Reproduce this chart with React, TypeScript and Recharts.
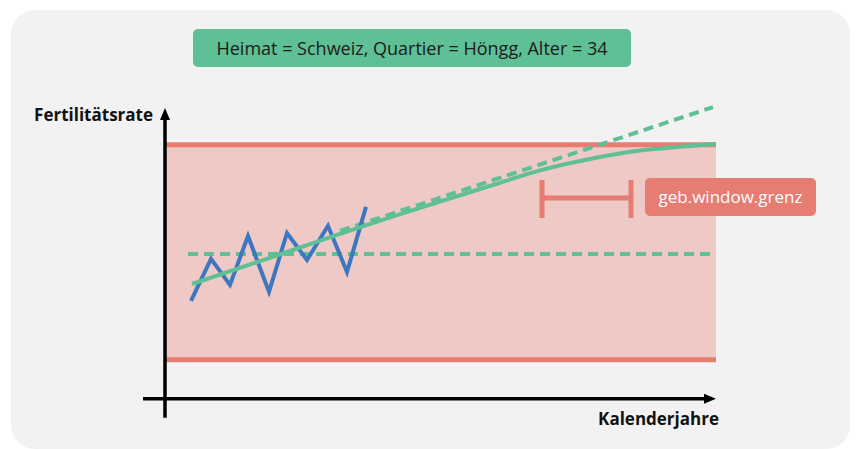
import {
  ComposedChart,
  Line,
  XAxis,
  YAxis,
  ReferenceArea,
  ReferenceLine,
} from 'recharts'

// abstract units: 5px per year step on x, 3px per unit on y
const X_DOMAIN: [number, number] = [-4.4, 110.2]
const Y_DOMAIN: [number, number] = [-6.4, 98]

const observedX = [5.2, 9.2, 13, 16.6, 20.8, 24.4, 28.4, 32.6, 36.4, 40.2]
const observedY = [32.7, 46.7, 38, 54.3, 35.7, 55.3, 46.3, 57.7, 42.3, 64]

const trendX = [5.4, 15, 25, 35, 45, 55, 65, 75, 85, 95, 105, 110]
const trendY = [38.3, 43.7, 49.3, 55, 60.5, 65.8, 71, 76.2, 80, 82.8, 84.3, 85]

const linearX = [35, 109.6]
const linearY = [56, 97.3]

const meanX = [4.6, 110]
const meanY = [48.3, 48.3]

const bandX = [0, 110.2]
const bandY = [13, 84.7]

const windowX = [75.4, 93.2]
const windowY = [60.3, 67, 73]

const RED = '#e67c72'
const GREEN = '#5fbf95'
const BLUE = '#3d77bf'

const zip = (xs: number[], ys: number[]) => xs.map((x, i) => ({ x, y: ys[i] }))

const observed = zip(observedX, observedY)
const trend = zip(trendX, trendY)
const linear = zip(linearX, linearY)
const mean = zip(meanX, meanY)

function Arrow(props: any) {
  const { x1, y1, x2, y2 } = props
  const dx = x2 - x1
  const dy = y2 - y1
  const len = Math.sqrt(dx * dx + dy * dy)
  const ux = dx / len
  const uy = dy / len
  const head = 12
  const half = 5
  const bx = x2 - ux * head
  const by = y2 - uy * head
  return (
    <g>
      <line x1={x1} y1={y1} x2={bx} y2={by} stroke="#000" strokeWidth={3.5} />
      <polygon
        points={`${x2},${y2} ${bx - uy * half},${by + ux * half} ${bx + uy * half},${by - ux * half}`}
        fill="#000"
      />
    </g>
  )
}

const font = '"Open Sans", Lato, sans-serif'

export default function App() {
  return (
    <div
      style={{
        position: 'absolute',
        left: 0,
        top: 0,
        width: 857,
        height: 449,
        background: '#fff',
        overflow: 'hidden',
        fontFamily: font,
      }}
    >
      <div
        style={{
          position: 'absolute',
          left: 11,
          top: 10,
          width: 839,
          height: 439,
          background: '#f2f2f2',
          borderRadius: 24,
        }}
      />
      <div
        style={{
          position: 'absolute',
          left: 193,
          top: 29,
          width: 438,
          height: 38,
          background: GREEN,
          borderRadius: 5,
          color: '#1b1b1b',
          fontSize: 18,
          lineHeight: '38px',
          textAlign: 'center',
          whiteSpace: 'nowrap',
        }}
      >
        Heimat = Schweiz, Quartier = Höngg, Alter = 34
      </div>
      <div style={{ position: 'absolute', left: 0, top: 0 }}>
        <ComposedChart
          width={857}
          height={449}
          margin={{ top: 105, right: 141, bottom: 31, left: 143 }}
        >
          <XAxis type="number" dataKey="x" domain={X_DOMAIN} hide allowDataOverflow />
          <YAxis type="number" dataKey="y" domain={Y_DOMAIN} hide allowDataOverflow />
          <ReferenceArea
            x1={bandX[0]}
            x2={bandX[1]}
            y1={bandY[0]}
            y2={bandY[1]}
            fill="#eec9c5"
            fillOpacity={1}
            stroke="none"
          />
          <ReferenceLine
            segment={[{ x: bandX[0], y: bandY[1] }, { x: bandX[1], y: bandY[1] }]}
            stroke={RED}
            strokeWidth={5}
          />
          <ReferenceLine
            segment={[{ x: bandX[0], y: bandY[0] }, { x: bandX[1], y: bandY[0] }]}
            stroke={RED}
            strokeWidth={5}
          />
          <ReferenceLine
            segment={[{ x: 0, y: -6.3 }, { x: 0, y: 97 }]}
            shape={Arrow}
          />
          <ReferenceLine
            segment={[{ x: -4.4, y: 0 }, { x: 110.2, y: 0 }]}
            shape={Arrow}
          />
          <Line
            data={mean}
            dataKey="y"
            type="linear"
            stroke={GREEN}
            strokeWidth={4}
            strokeDasharray="10 6"
            dot={false}
            isAnimationActive={false}
          />
          <Line
            data={linear}
            dataKey="y"
            type="linear"
            stroke={GREEN}
            strokeWidth={4}
            strokeDasharray="10 6"
            dot={false}
            isAnimationActive={false}
          />
          <Line
            data={observed}
            dataKey="y"
            type="linear"
            stroke={BLUE}
            strokeWidth={4}
            dot={false}
            isAnimationActive={false}
          />
          <Line
            data={trend}
            dataKey="y"
            type="monotone"
            stroke={GREEN}
            strokeWidth={4}
            dot={false}
            isAnimationActive={false}
          />
          <ReferenceLine
            segment={[{ x: windowX[0], y: windowY[1] }, { x: windowX[1], y: windowY[1] }]}
            stroke={RED}
            strokeWidth={5}
          />
          <ReferenceLine
            segment={[{ x: windowX[0], y: windowY[0] }, { x: windowX[0], y: windowY[2] }]}
            stroke={RED}
            strokeWidth={5}
          />
          <ReferenceLine
            segment={[{ x: windowX[1], y: windowY[0] }, { x: windowX[1], y: windowY[2] }]}
            stroke={RED}
            strokeWidth={5}
          />
        </ComposedChart>
      </div>
      <div
        style={{
          position: 'absolute',
          left: 645,
          top: 178,
          width: 171,
          height: 38,
          background: RED,
          borderRadius: 5,
          color: '#fff',
          fontSize: 17,
          lineHeight: '38px',
          textAlign: 'center',
          whiteSpace: 'nowrap',
        }}
      >
        geb.window.grenz
      </div>
      <div
        style={{
          position: 'absolute',
          right: 857 - 153,
          top: 104,
          fontSize: 17,
          fontWeight: 700,
          lineHeight: '22px',
          color: '#111',
          whiteSpace: 'nowrap',
        }}
      >
        Fertilitätsrate
      </div>
      <div
        style={{
          position: 'absolute',
          right: 857 - 719,
          top: 408,
          fontSize: 17,
          fontWeight: 700,
          lineHeight: '22px',
          color: '#111',
          whiteSpace: 'nowrap',
        }}
      >
        Kalenderjahre
      </div>
    </div>
  )
}
